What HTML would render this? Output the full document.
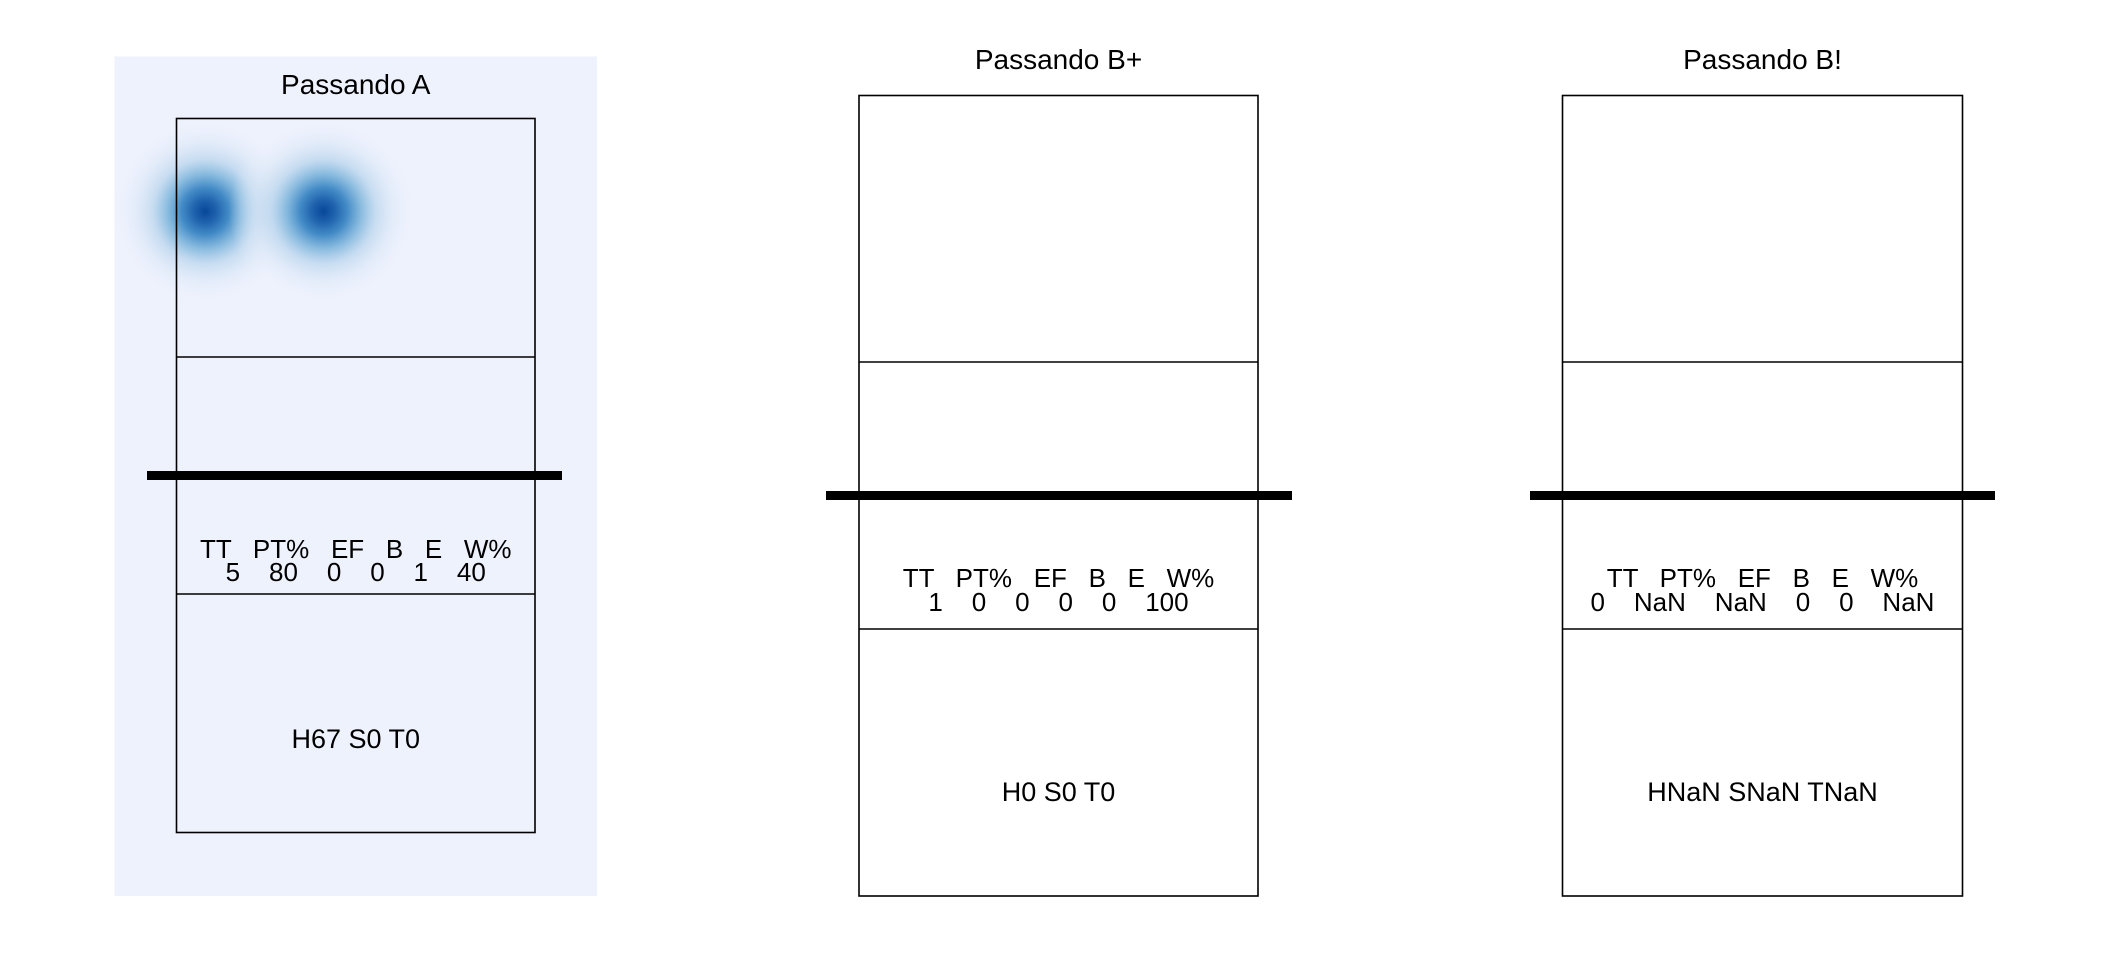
<!DOCTYPE html>
<html><head><meta charset="utf-8"><style>
html,body{margin:0;padding:0;background:#fff;}
svg{display:block;}
text{font-family:"Liberation Sans",sans-serif;fill:#000;white-space:pre;}
</style></head><body>
<svg id="chart" width="2112" height="960" viewBox="0 0 2112 960">
<defs>
<radialGradient id="blob" cx="0.5" cy="0.5" r="0.5">
<stop offset="0" stop-color="#08479A" stop-opacity="1"/>
<stop offset="0.12" stop-color="#1f62ad" stop-opacity="1"/>
<stop offset="0.25" stop-color="#3a86c4" stop-opacity="0.95"/>
<stop offset="0.4" stop-color="#7ab3da" stop-opacity="0.85"/>
<stop offset="0.55" stop-color="#b6d3ec" stop-opacity="0.7"/>
<stop offset="0.75" stop-color="#d9e6f6" stop-opacity="0.45"/>
<stop offset="1" stop-color="#eef2fd" stop-opacity="0"/>
</radialGradient>
</defs>
<g id="panels"></g>
</svg>
<script>
const titles = ["Passando A", "Passando B+", "Passando B!"];
const statHeaders = ["TT", "PT%", "EF", "B", "E", "W%"];
const statTT = ["5", "1", "0"];
const statPT = ["80", "0", "NaN"];
const statEF = ["0", "0", "NaN"];
const statB = ["0", "0", "0"];
const statE = ["1", "0", "0"];
const statW = ["40", "100", "NaN"];
const summaryH = ["67", "0", "NaN"];
const summaryS = ["0", "0", "NaN"];
const summaryT = ["0", "0", "NaN"];
// density blob locations in court units (x: 0..1 across, y: 0..1 from top of court)
const blobPanel = [0, 0];
const blobX = [0.08, 0.41];
const blobY = [0.13, 0.13];

const NS = "http://www.w3.org/2000/svg";
const layout = [
  {bg:[114.5,56.5,482.5,839.5], cx0:176.5, cx1:535, cy0:118.5, cy1:832.5, l1:357, l2:594, net:475.5, nx0:147, nx1:562, ty:94, sy1:558, sy2:581, hy:748},
  {bg:null, cx0:859, cx1:1258, cy0:95.5, cy1:896, l1:362, l2:629, net:495.5, nx0:826, nx1:1292, ty:69, sy1:587, sy2:611, hy:801},
  {bg:null, cx0:1562.5, cx1:1962.5, cy0:95.5, cy1:896, l1:362, l2:629, net:495.5, nx0:1530, nx1:1995, ty:69, sy1:587, sy2:611, hy:801}
];
const root = document.getElementById("panels");
function mk(tag, attrs, parent){const e=document.createElementNS(NS,tag);for(const k in attrs)e.setAttribute(k,attrs[k]);parent.appendChild(e);return e;}

layout.forEach((L,i)=>{
  const g = mk("g",{},root);
  
  
  if(L.bg){
    const r = mk("rect",{x:L.bg[0],y:L.bg[1],width:L.bg[2],height:L.bg[3],fill:"#eef2fd"},g);
    
    
  }
  const cw = L.cx1-L.cx0, ch = L.cy1-L.cy0;
  blobPanel.forEach((p,j)=>{
    if(p!==i) return;
    const c = mk("circle",{cx:L.cx0+blobX[j]*cw, cy:L.cy0+blobY[j]*ch, r:95, fill:"url(#blob)"},g);
    
    
  });
  const court = mk("rect",{x:L.cx0,y:L.cy0,width:cw,height:ch,fill:"none",stroke:"#000","stroke-width":1.6},g);
  
  
  [L.l1,L.l2].forEach(y=>{
    const ln = mk("line",{x1:L.cx0,x2:L.cx1,y1:y,y2:y,stroke:"#000","stroke-width":1.6},g);
    
    
  });
  const net = mk("line",{x1:L.nx0,x2:L.nx1,y1:L.net,y2:L.net,stroke:"#000","stroke-width":9},g);
  
  
  const mid = (L.cx0+L.cx1)/2;
  const t = mk("text",{x:mid,y:L.ty,"text-anchor":"middle","font-size":"28"},g);
  t.textContent = titles[i];
  
  
  const hdr = mk("text",{x:mid,y:L.sy1,"text-anchor":"middle","font-size":"26"},g);
  hdr.textContent = statHeaders.join("   ");
  
  
  const vals = mk("text",{x:mid,y:L.sy2,"text-anchor":"middle","font-size":"26"},g);
  vals.textContent = [statTT[i],statPT[i],statEF[i],statB[i],statE[i],statW[i]].join("    ");
  
  
  const s = mk("text",{x:mid,y:L.hy,"text-anchor":"middle","font-size":"27"},g);
  s.textContent = "H"+summaryH[i]+" S"+summaryS[i]+" T"+summaryT[i];
  
  
});
</script>
</body></html>
